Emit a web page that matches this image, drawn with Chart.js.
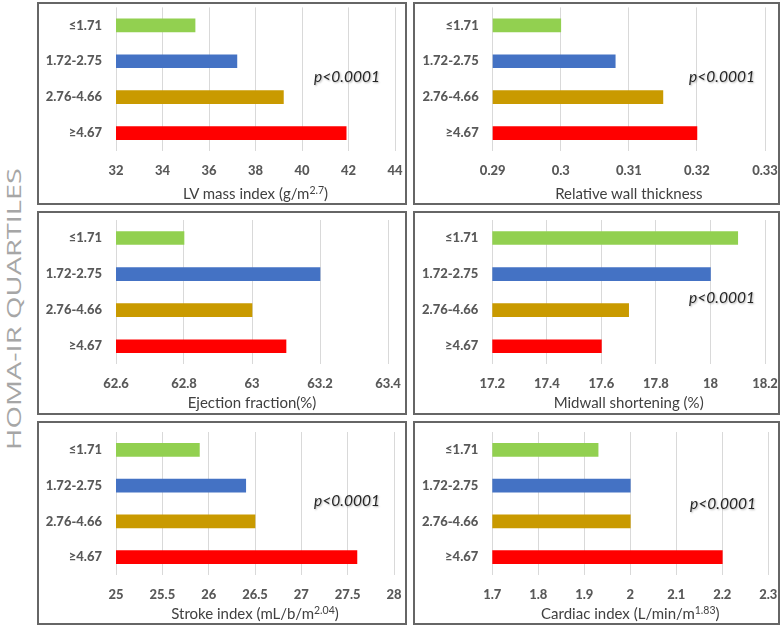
<!DOCTYPE html>
<html>
<head>
<meta charset="utf-8">
<script src="https://cdn.jsdelivr.net/npm/chart.js@4.4.1/dist/chart.umd.min.js"></script>
<style>
  body { margin: 0; background: #fff; }
  #wrap { position: relative; width: 784px; height: 628px; overflow: hidden; font-family: Lato, "Open Sans", sans-serif; }
  .box { position: absolute; border: 2px solid #666; box-sizing: border-box; pointer-events: none; }
  canvas { position: absolute; }
  .xt { position: absolute; font-size: 15px; color: #404040; white-space: nowrap; transform: translate(-50%, -50%); }
  .xt sup { font-size: 10.5px; vertical-align: 5px; line-height: 0; }
  #side { position: absolute; left: 13px; top: 309px; font-family: "Open Sans"; font-weight: 400;
          font-size: 19.5px; color: #a6a6a6; white-space: nowrap; }
</style>
</head>
<body>
<div id="wrap"><div id="side">HOMA-IR QUARTILES</div></div>
<script>
// categories (top to bottom) and bar colours
const quartiles = ['≤1.71', '1.72-2.75', '2.76-4.66', '≥4.67'];
const barColors = ['#92D050', '#4472C4', '#C99A00', '#FF0000'];

// series values
const lvMassIndex = [35.4, 37.2, 39.2, 41.9];
const relWallThickness = [0.300, 0.308, 0.315, 0.320];
const ejectionFraction = [62.8, 63.2, 63.0, 63.1];
const midwallShortening = [18.1, 18.0, 17.7, 17.6];
const strokeIndex = [25.9, 26.4, 26.5, 27.6];
const cardiacIndex = [1.93, 2.0, 2.0, 2.2];

// x tick labels
const lvMassTicks = [32, 34, 36, 38, 40, 42, 44];
const rwtTicks = [0.29, 0.30, 0.31, 0.32, 0.33];
const efTicks = [62.6, 62.8, 63.0, 63.2, 63.4];
const mwsTicks = [17.2, 17.4, 17.6, 17.8, 18.0, 18.2];
const strokeTicks = [25, 25.5, 26, 26.5, 27, 27.5, 28];
const cardiacTicks = [1.7, 1.8, 1.9, 2.0, 2.1, 2.2, 2.3];

const panels = [
  { data: lvMassIndex, ticks: lvMassTicks, title: 'LV mass index (g/m<sup>2.7</sup>)', p: 'p<0.0001' },
  { data: relWallThickness, ticks: rwtTicks, title: 'Relative wall thickness', p: 'p<0.0001' },
  { data: ejectionFraction, ticks: efTicks, title: 'Ejection fraction(%)', p: '' },
  { data: midwallShortening, ticks: mwsTicks, title: 'Midwall shortening (%)', p: 'p<0.0001' },
  { data: strokeIndex, ticks: strokeTicks, title: 'Stroke index (mL/b/m<sup>2.04</sup>)', p: 'p<0.0001' },
  { data: cardiacIndex, ticks: cardiacTicks, title: 'Cardiac index (L/min/m<sup>1.83</sup>)', p: 'p<0.0001' }
];

// page layout (pixels): box, plot area, title row, p-label centre
const cols = [{ x0: 37, x1: 407 }, { x0: 413, x1: 780 }];
const rows = [
  { y0: 2, y1: 205, top: 7.4, bottom: 151, title: 192.5 },
  { y0: 211, y1: 415, top: 220, bottom: 364.3, title: 401.5 },
  { y0: 421, y1: 625, top: 432, bottom: 575, title: 613 }
];
const plotX = [[116, 395], [492.7, 765], [116, 388], [492.3, 765], [116, 394], [492.3, 768.3]];
const pPos = [[347, 77], [722, 77], [0, 0], [722, 298], [347, 501], [723, 504]];

// side label: stretched to the reference's length
const side = document.getElementById('side');
const sideLen = 282;
const sx = sideLen / side.offsetWidth;
side.style.transform = 'translate(-50%, -50%) rotate(-90deg) scaleX(' + sx + ')';

const pValuePlugin = {
  id: 'pValue',
  afterDraw(chart, args, opts) {
    if (!opts.text) return;
    const ctx = chart.ctx;
    ctx.save();
    ctx.font = 'italic 15.5px Lato';
    ctx.fillStyle = '#262626';
    ctx.textAlign = 'center';
    ctx.textBaseline = 'middle';
    ctx.shadowColor = 'rgba(0,0,0,0.3)';
    ctx.shadowBlur = 2;
    ctx.shadowOffsetX = 1;
    ctx.shadowOffsetY = 1;
    ctx.fillText(opts.text, opts.x, opts.y);
    ctx.restore();
  }
};

const wrap = document.getElementById('wrap');

panels.forEach((p, i) => {
  const col = cols[i % 2], row = rows[Math.floor(i / 2)];
  const w = col.x1 - col.x0, h = row.y1 - row.y0;
  const left = plotX[i][0] - col.x0, right = plotX[i][1] - col.x0;
  const top = row.top - row.y0, bottom = row.bottom - row.y0;

  const canvas = document.createElement('canvas');
  canvas.width = w; canvas.height = h;
  canvas.style.left = col.x0 + 'px'; canvas.style.top = row.y0 + 'px';
  wrap.appendChild(canvas);

  const box = document.createElement('div');
  box.className = 'box';
  box.style.left = col.x0 + 'px'; box.style.top = row.y0 + 'px';
  box.style.width = w + 'px'; box.style.height = h + 'px';
  wrap.appendChild(box);

  const t = document.createElement('div');
  t.className = 'xt';
  t.innerHTML = p.title;
  t.style.left = (plotX[i][0] + plotX[i][1]) / 2 + 'px';
  t.style.top = row.title + 'px';
  wrap.appendChild(t);

  new Chart(canvas, {
    type: 'bar',
    data: {
      labels: quartiles,
      datasets: [{ data: p.data, backgroundColor: barColors, borderWidth: 0, barThickness: 13 }]
    },
    options: {
      indexAxis: 'y',
      responsive: false,
      animation: false,
      layout: { padding: { left: 0, right: w - right, top: top, bottom: 0 } },
      plugins: {
        legend: { display: false },
        tooltip: { enabled: false },
        pValue: { text: p.p, x: pPos[i][0] - col.x0, y: pPos[i][1] - row.y0 }
      },
      scales: {
        x: {
          min: p.ticks[0],
          max: p.ticks[p.ticks.length - 1],
          afterBuildTicks: s => { s.ticks = p.ticks.map(v => ({ value: v })); },
          afterFit: s => { s.height = h - bottom; s.paddingLeft = 0; s.paddingRight = 0; },
          grid: { color: '#d9d9d9', lineWidth: 1, drawTicks: false },
          border: { display: false },
          ticks: {
            padding: 12,
            color: '#595959',
            font: { family: 'Lato', size: 13, weight: 900 },
            maxRotation: 0,
            autoSkip: false,
            callback: v => String(+(+v).toFixed(4))
          }
        },
        y: {
          afterFit: s => { s.width = left; s.paddingTop = 0; s.paddingBottom = 0; },
          grid: { display: false, drawTicks: false },
          border: { display: false },
          ticks: {
            padding: 14,
            color: '#595959',
            font: { family: 'Lato', size: 13, weight: 900 }
          }
        }
      }
    },
    plugins: [pValuePlugin]
  });
});
</script>
</body>
</html>
